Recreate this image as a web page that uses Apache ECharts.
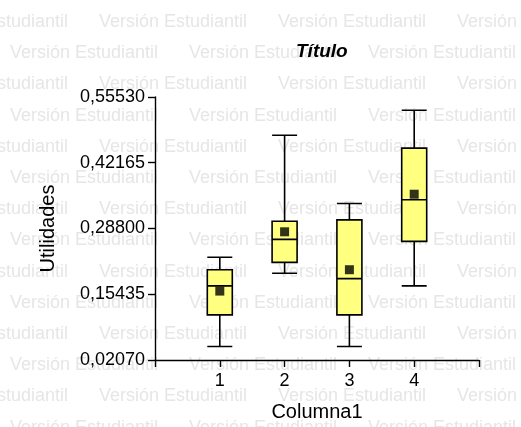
<!DOCTYPE html>
<html>
<head>
<meta charset="utf-8">
<script src="https://cdn.jsdelivr.net/npm/echarts@6/dist/echarts.min.js"></script>
<style>
    html, body { margin: 0; padding: 0; background: #fff; }
    #chart { width: 521px; height: 427px; }
</style>
</head>
<body>
<div id="chart"></div>
<script>
// datos
const categories = ['1', '2', '3', '4'];
// [min, Q1, mediana, Q3, max]
const boxMin = [0.0482, 0.1969, 0.0482, 0.1714];
const boxQ1 = [0.1125, 0.2191, 0.1125, 0.2619];
const boxMedian = [0.1714, 0.2659, 0.1861, 0.3463];
const boxQ3 = [0.2042, 0.3027, 0.3055, 0.4514];
const boxMax = [0.2297, 0.4775, 0.3388, 0.5285];
const means = [0.1608, 0.2813, 0.2042, 0.3577];
const yTicks = [0.02070, 0.15435, 0.28800, 0.42165, 0.55530];

const FONT = 'Arial, "Liberation Sans", sans-serif';

function watermark() {
    let items = [];
    for (let k = 0; k < 14; k++) {
        let y = 22 + 31.2 * k;
        let x = (k % 2 === 0 ? 99 : 10) - 179;
        for (; x < 521; x += 179) {
            items.push({
                type: 'text',
                x: x, y: y,
                z: -10,
                silent: true,
                style: {
                    text: 'Versión Estudiantil',
                    fill: '#e6e6e6',
                    font: '18px ' + FONT,
                    verticalAlign: 'middle'
                }
            });
        }
    }
    return items;
}

let chartDom = document.getElementById('chart');
let myChart = echarts.init(chartDom);
let option = {
    animation: false,
    backgroundColor: '#fff',
    graphic: { elements: watermark() },
    title: {
        text: 'Título',
        left: 291,
        top: 37,
        textStyle: { fontFamily: FONT, fontSize: 19, fontWeight: 'bold', fontStyle: 'italic', color: '#000' }
    },
    grid: { left: 155, right: 42, top: 97, bottom: 64 },
    xAxis: {
        type: 'value',
        min: 0, max: 5, interval: 1,
        name: 'Columna1',
        nameLocation: 'middle',
        nameGap: 42,
        nameTextStyle: { fontFamily: FONT, fontSize: 20, color: '#000' },
        axisLine: { lineStyle: { color: '#000', width: 1.4 } },
        axisTick: { length: 7, lineStyle: { color: '#000', width: 1.4 } },
        axisLabel: {
            margin: 12,
            fontFamily: FONT, fontSize: 18, color: '#000',
            formatter: v => categories[v - 1] || ''
        },
        splitLine: { show: false }
    },
    yAxis: {
        type: 'value',
        min: 0.0207, max: 0.5553,
        name: 'Utilidades',
        nameLocation: 'middle',
        nameGap: 97,
        nameTextStyle: { fontFamily: FONT, fontSize: 20, color: '#000' },
        axisLine: { show: true, lineStyle: { color: '#000', width: 1.4 } },
        axisTick: { show: true, length: 7, customValues: yTicks, lineStyle: { color: '#000', width: 1.4 } },
        axisLabel: {
            margin: 10,
            customValues: yTicks,
            fontFamily: FONT, fontSize: 18, color: '#000',
            formatter: v => v.toFixed(5).replace('.', ',')
        },
        splitLine: { show: false }
    },
    series: [
        {
            type: 'boxplot',
            boxWidth: [25, 25],
            encode: { x: 0, y: [1, 2, 3, 4, 5] },
            itemStyle: { color: '#ffff80', borderColor: '#000', borderWidth: 1.6 },
            data: categories.map((c, i) => [i + 1, boxMin[i], boxQ1[i], boxMedian[i], boxQ3[i], boxMax[i]])
        },
        {
            type: 'scatter',
            symbol: 'rect',
            symbolSize: 9,
            z: 5,
            itemStyle: { color: '#000' },
            data: categories.map((c, i) => [i + 1, means[i]])
        }
    ]
};
option && myChart.setOption(option);
</script>
</body>
</html>
